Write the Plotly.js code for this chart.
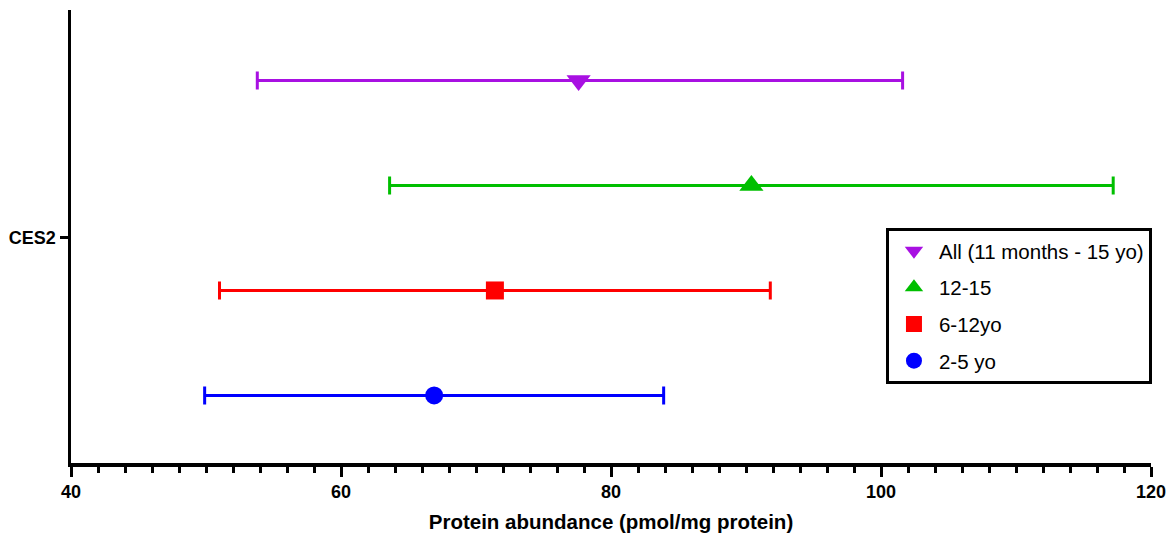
<!DOCTYPE html>
<html>
<head>
<meta charset="utf-8">
<script src="https://cdn.plot.ly/plotly-3.0.1.min.js"></script>
<style>html,body{margin:0;padding:0;background:#fff}#chart{width:1171px;height:533px}</style>
</head>
<body>
<div id="chart"></div>
<script>
// Groups, drawn top to bottom
const groups = ["All (11 months - 15 yo)", "12-15", "6-12yo", "2-5 yo"];
const rowPos = [1.5, 0.5, -0.5, -1.5];
const means = [77.6, 90.4, 71.4, 66.9];
const lower = [53.8, 63.6, 51.0, 49.9];
const upper = [101.6, 117.2, 91.8, 83.9];
const colors = ["#A810E2", "#00BF00", "#FF0000", "#0000FF"];
const symbols = ["triangle-down", "triangle-up", "square", "circle"];
const sizes = [21, 21, 18, 18];
const categoryLabel = ["CES2"];
const xTickVals = [40, 60, 80, 100, 120];

const traces = groups.map((g, i) => ({
  type: "scatter",
  mode: "markers",
  name: g,
  legendgroup: "g" + i,
  x: [means[i]],
  y: [rowPos[i]],
  marker: { color: colors[i], symbol: symbols[i], size: sizes[i] },
  error_x: {
    type: "data", symmetric: false,
    array: [upper[i] - means[i]],
    arrayminus: [means[i] - lower[i]],
    color: colors[i], thickness: 3, width: 9
  },
  hoverinfo: "x+name"
}));

const layout = {
  width: 1171, height: 533,
  margin: { l: 71, r: 20, t: 10, b: 70 },
  paper_bgcolor: "#fff", plot_bgcolor: "#fff",
  font: { family: "Liberation Sans, Arial, sans-serif", color: "#000" },
  showlegend: true,
  legend: {
    x: 0.7546, xanchor: "left", y: 0.519, yanchor: "top",
    bordercolor: "#000", borderwidth: 3, bgcolor: "#fff",
    font: { size: 20.5, color: "#000" },
    traceorder: "grouped", tracegroupgap: 7,
    itemwidth: 40
  },
  xaxis: {
    range: [40, 120], tickvals: xTickVals, ticktext: xTickVals.map(String),
    showgrid: false, zeroline: false,
    showline: true, linecolor: "#000", linewidth: 3.5,
    ticks: "outside", ticklen: 10, tickwidth: 3, tickcolor: "#000",
    tickfont: { size: 18, family: "Liberation Sans, Arial, sans-serif", weight: "bold" },
    minor: { dtick: 2, ticks: "outside", ticklen: 6, tickwidth: 3, tickcolor: "#000", showgrid: false },
    title: { text: "<b>Protein abundance (pmol/mg protein)</b>", font: { size: 20.5 }, standoff: 18 },
    fixedrange: true
  },
  yaxis: {
    range: [-2.143, 2.171], tickvals: [0], ticktext: categoryLabel,
    showgrid: false, zeroline: false,
    showline: true, linecolor: "#000", linewidth: 3.5,
    ticks: "outside", ticklen: 8, tickwidth: 3, tickcolor: "#000",
    tickfont: { size: 18, family: "Liberation Sans, Arial, sans-serif", weight: "bold" },
    fixedrange: true
  }
};

Plotly.newPlot("chart", traces, layout, { displayModeBar: false, staticPlot: true });
</script>
</body>
</html>
